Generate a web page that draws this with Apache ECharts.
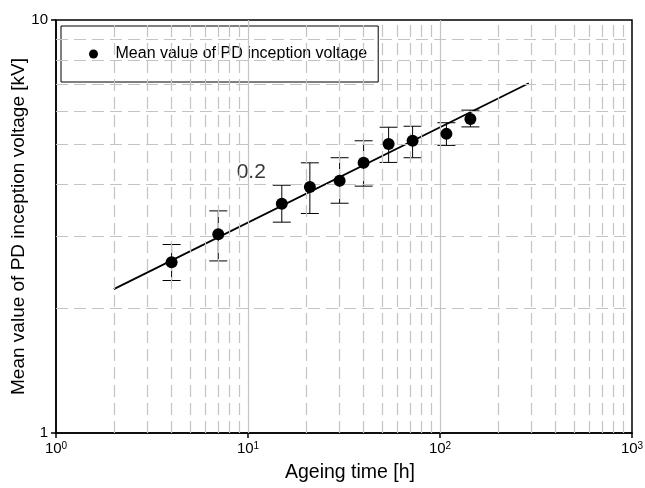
<!DOCTYPE html>
<html>
<head>
<meta charset="utf-8">
<script src="https://cdn.jsdelivr.net/npm/echarts@6/dist/echarts.min.js"></script>
<style>html,body{margin:0;padding:0;background:#fff;}#c{width:645px;height:488px;}</style>
</head>
<body>
<div id="c"></div>
<script>
// Data
var seriesName = 'Mean value of PD inception voltage';
var times = [4, 7, 15, 21, 30, 40, 54, 72, 108, 144];
var means = [2.59, 3.03, 3.59, 3.94, 4.08, 4.51, 5.01, 5.10, 5.30, 5.76];
var upper = [2.86, 3.45, 3.98, 4.51, 4.64, 5.10, 5.50, 5.53, 5.64, 6.05];
var lower = [2.34, 2.61, 3.24, 3.40, 3.60, 3.96, 4.52, 4.64, 4.97, 5.51];
var fitT = [2, 290];
var fitV = [2.23, 7.03];
var annotText = ['0.2'];
var annotT = [10.4];
var annotV = [4.29];
var xMinorGrid = [2,3,4,5,6,7,8,9,20,30,40,50,60,70,80,90,200,300,400,500,600,700,800,900];
var xMajorGrid = [10, 100];
var yMinorGrid = [2,3,4,5,6,7,8,9];

var FONT = "'Liberation Sans', Arial, sans-serif";
var chart = echarts.init(document.getElementById('c'), null, {renderer: 'canvas'});

var pts = times.map(function (t, i) { return [t, means[i]]; });
var errs = times.map(function (t, i) { return [t, lower[i], upper[i]]; });
var fit = fitT.map(function (t, i) { return [t, fitV[i]]; });
var annot = annotT.map(function (t, i) { return [t, annotV[i], annotText[i]]; });

var gridLines = [];
xMinorGrid.forEach(function (v) { gridLines.push({xAxis: v, lineStyle: {type: [12, 6], color: '#c4c4c4', width: 1.2}}); });
xMajorGrid.forEach(function (v) { gridLines.push({xAxis: v, lineStyle: {type: 'solid', color: '#c4c4c4', width: 1.2}}); });
yMinorGrid.forEach(function (v) { gridLines.push({yAxis: v, lineStyle: {type: [12, 6], color: '#c4c4c4', width: 1.2}}); });

var option = {
  animation: false,
  backgroundColor: '#fff',
  textStyle: {fontFamily: FONT},
  grid: {left: 56, right: 13, top: 20, bottom: 55, containLabel: false, outerBoundsMode: 'none', show: true, borderColor: '#000', borderWidth: 1.5, backgroundColor: '#fff'},
  legend: {
    data: [seriesName],
    left: 61, top: 26,
    orient: 'horizontal',
    backgroundColor: '#fff',
    borderColor: '#000',
    borderWidth: 1,
    borderRadius: 0,
    padding: [20, 11, 20, 28],
    itemWidth: 34, itemHeight: 9,
    textStyle: {fontSize: 16, color: '#000', fontFamily: FONT},
    selectedMode: false
  },
  xAxis: {
    type: 'log', logBase: 10, min: 1, max: 1000,
    name: 'Ageing time [h]', nameLocation: 'middle', nameGap: 30, nameMoveOverlap: false,
    nameTextStyle: {fontSize: 19.5, color: '#000', fontFamily: FONT, padding: [0, 0, 0, 12]},
    axisLine: {lineStyle: {color: '#000', width: 1.5}},
    axisTick: {show: true, inside: false, length: 5, lineStyle: {color: '#000', width: 1.5}},
    splitLine: {show: false},
    axisLabel: {
      margin: 8, color: '#000',
      formatter: function (v) { var e = Math.round(Math.log10(v)); return '{b|10}{s|' + e + '}'; },
      rich: {b: {fontSize: 15, fontFamily: FONT, color: '#000', verticalAlign: 'bottom'}, s: {fontSize: 10, fontFamily: FONT, color: '#000', verticalAlign: 'top', padding: [0, 0, 4, 0]}}
    }
  },
  yAxis: {
    type: 'log', logBase: 10, min: 1, max: 10,
    name: 'Mean value of PD inception voltage [kV]', nameLocation: 'middle', nameGap: 28, nameRotate: 90, nameMoveOverlap: false,
    nameTextStyle: {fontSize: 19, color: '#000', fontFamily: FONT},
    axisLine: {lineStyle: {color: '#000', width: 1.5}},
    axisTick: {show: true, inside: false, length: 5, lineStyle: {color: '#000', width: 1.5}},
    splitLine: {show: false},
    axisLabel: {margin: 8, fontSize: 15, color: '#000', fontFamily: FONT}
  },
  series: [
    {
      name: 'grid', type: 'line', data: [], silent: true,
      markLine: {silent: true, symbol: 'none', label: {show: false}, animation: false, data: gridLines}
    },
    {
      name: 'fit', type: 'line', data: fit, showSymbol: false, symbol: 'none',
      lineStyle: {color: '#000', width: 1.8}, z: 3, silent: true
    },
    {
      name: 'err', type: 'custom', z: 4, silent: true,
      renderItem: function (params, api) {
        var x = api.value(0);
        var lo = api.coord([x, api.value(1)]);
        var hi = api.coord([x, api.value(2)]);
        var cw = 9;
        var st = {stroke: '#000', lineWidth: 1};
        return {type: 'group', children: [
          {type: 'line', shape: {x1: lo[0], y1: lo[1], x2: hi[0], y2: hi[1]}, style: st},
          {type: 'line', shape: {x1: lo[0] - cw, y1: lo[1], x2: lo[0] + cw, y2: lo[1]}, style: st},
          {type: 'line', shape: {x1: hi[0] - cw, y1: hi[1], x2: hi[0] + cw, y2: hi[1]}, style: st}
        ]};
      },
      encode: {x: 0, y: [1, 2]},
      data: errs
    },
    {
      name: seriesName, type: 'scatter', data: pts, symbol: 'circle', symbolSize: 12,
      itemStyle: {color: '#000', opacity: 1}, z: 5
    },
    {
      name: 'annot', type: 'scatter', data: annot, symbolSize: 0, silent: true,
      label: {show: true, position: 'inside', formatter: function (p) { return p.value[2]; }, fontSize: 21, color: '#000', fontFamily: FONT}
    }
  ]
};
chart.setOption(option);
</script>
</body>
</html>
